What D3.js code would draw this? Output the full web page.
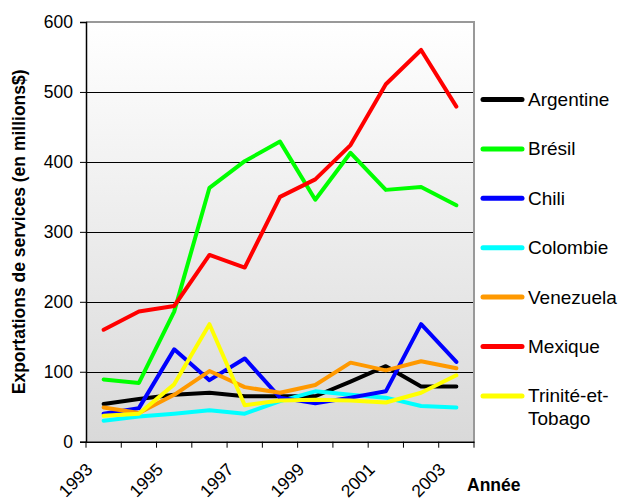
<!DOCTYPE html>
<html>
<head>
<meta charset="utf-8">
<script src="https://cdn.jsdelivr.net/npm/d3@7"></script>
<style>
  body { margin: 0; background: #fff; }
  text { font-family: "Liberation Sans", Arial, sans-serif; }
</style>
</head>
<body>
<div id="chart"></div>
<script>
// data
const years = ['1993', '1994', '1995', '1996', '1997', '1998', '1999', '2000', '2001', '2002', '2003'];
const yearLabels = ['1993', '1995', '1997', '1999', '2001', '2003'];
const yTicks = [0, 100, 200, 300, 400, 500, 600];

const argentine = [54, 61, 67, 70, 65, 65, 65, 86, 108, 79, 79];
const bresil = [89, 84, 186, 363, 401, 429, 346, 413, 360, 364, 338];
const chili = [40, 48, 132, 88, 119, 63, 55, 63, 72, 168, 114];
const colombie = [30, 36, 40, 45, 40, 58, 72, 67, 63, 51, 49];
const venezuela = [49, 41, 67, 101, 78, 70, 81, 113, 102, 115, 105];
const mexique = [160, 186, 194, 267, 249, 350, 375, 424, 511, 560, 479];
const trinite = [37, 40, 82, 168, 52, 59, 60, 59, 56, 70, 95];

const seriesNames = ['Argentine', 'Brésil', 'Chili', 'Colombie', 'Venezuela', 'Mexique', 'Trinité-et-Tobago'];
const seriesColors = ['#000000', '#00ff00', '#0000ff', '#00ffff', '#ff9900', '#ff0000', '#ffff00'];
const seriesValues = [argentine, bresil, chili, colombie, venezuela, mexique, trinite];

// drawing order: later ones on top
const drawOrder = [1, 5, 0, 3, 2, 4, 6];

const width = 619;
const height = 502;
const margin = {top: 22, right: 145, bottom: 60, left: 86};

const svg = d3.select('#chart')
    .append('svg')
    .attr('width', width)
    .attr('height', height);

const x = d3.scaleBand()
    .domain(years)
    .range([margin.left, width - margin.right]);

const y = d3.scaleLinear()
    .domain([0, 600])
    .range([height - margin.bottom - 0.3, margin.top]);

const defs = svg.append('defs');
const grad = defs.append('linearGradient')
    .attr('id', 'bg')
    .attr('x1', 0).attr('y1', 0)
    .attr('x2', 0).attr('y2', 1);
grad.append('stop').attr('offset', '0%').attr('stop-color', '#ffffff');
grad.append('stop').attr('offset', '100%').attr('stop-color', '#d9d9d9');

const plotW = width - margin.right - margin.left;
const plotH = y(0) - margin.top;

svg.append('rect')
    .attr('x', margin.left)
    .attr('y', margin.top)
    .attr('width', plotW)
    .attr('height', plotH)
    .attr('fill', 'url(#bg)');

// gridlines
svg.append('g')
    .selectAll('line')
    .data(yTicks.filter((d) => d > 0 && d < 600))
    .join('line')
    .attr('x1', margin.left)
    .attr('x2', width - margin.right)
    .attr('y1', (d) => Math.round(y(d)) + 0.5)
    .attr('y2', (d) => Math.round(y(d)) + 0.5)
    .attr('stroke', '#000')
    .attr('stroke-width', 1);

// top and right border
svg.append('path')
    .attr('d', `M${margin.left},${margin.top}H${width - margin.right}V${y(0)}`)
    .attr('fill', 'none')
    .attr('stroke', '#999')
    .attr('stroke-width', 2);

// y axis
const yAxis = d3.axisLeft(y)
    .tickValues(yTicks)
    .tickSize(6)
    .tickPadding(7);

const gy = svg.append('g')
    .attr('transform', `translate(${margin.left},0)`)
    .call(yAxis);
gy.select('.domain').attr('stroke', '#000').attr('stroke-width', 1.5);
gy.selectAll('.tick line').attr('stroke', '#000');
gy.selectAll('.tick text')
    .attr('font-size', 17.5)
    .attr('fill', '#000');

// x axis
const xAxis = d3.axisBottom(x)
    .tickValues([])
    .tickSizeOuter(0);

const gx = svg.append('g')
    .attr('transform', `translate(0,${y(0)})`)
    .call(xAxis);
gx.select('.domain').attr('stroke', '#000').attr('stroke-width', 1.5);

gx.append('g')
    .selectAll('line')
    .data(years.concat(['end']))
    .join('line')
    .attr('x1', (d) => d === 'end' ? x.range()[1] : x(d))
    .attr('x2', (d) => d === 'end' ? x.range()[1] : x(d))
    .attr('y1', 0)
    .attr('y2', 6)
    .attr('stroke', '#000');

gx.append('g')
    .selectAll('text')
    .data(yearLabels)
    .join('text')
    .attr('transform', (d) =>
      `translate(${x(d) + x.bandwidth() / 2 - 10},${29}) rotate(-45)`)
    .attr('text-anchor', 'end')
    .attr('font-size', 17.5)
    .attr('fill', '#000')
    .text((d) => d);

// lines
const line = d3.line()
    .x((d, i) => x(years[i]) + x.bandwidth() / 2)
    .y((d) => y(d));

svg.append('g')
    .selectAll('path')
    .data(drawOrder)
    .join('path')
    .attr('d', (k) => line(seriesValues[k]))
    .attr('fill', 'none')
    .attr('stroke', (k) => seriesColors[k])
    .attr('stroke-width', 4)
    .attr('stroke-linejoin', 'round')
    .attr('stroke-linecap', 'round');

// legend
const legend = svg.append('g');
const legY = (i) => 99.5 + i * 49.4;

legend.selectAll('line')
    .data(seriesNames)
    .join('line')
    .attr('x1', 483)
    .attr('x2', 522)
    .attr('y1', (d, i) => legY(i))
    .attr('y2', (d, i) => legY(i))
    .attr('stroke', (d, i) => seriesColors[i])
    .attr('stroke-width', 5)
    .attr('stroke-linecap', 'round');

const legText = legend.selectAll('text')
    .data(seriesNames)
    .join('text')
    .attr('x', 528)
    .attr('y', (d, i) => legY(i) + 6.5)
    .attr('font-size', 19)
    .attr('fill', '#000');

legText.each(function(d) {
  const t = d3.select(this);
  if (d === 'Trinité-et-Tobago') {
    t.append('tspan').attr('x', 528).text('Trinité-et-');
    t.append('tspan').attr('x', 528).attr('dy', 23).text('Tobago');
  } else {
    t.text(d);
  }
});

// axis titles
svg.append('text')
    .attr('transform', `translate(25,${(margin.top + y(0)) / 2}) rotate(-90)`)
    .attr('text-anchor', 'middle')
    .attr('font-size', 17.5)
    .attr('font-weight', 'bold')
    .attr('fill', '#000')
    .text('Exportations de services (en millions$)');

svg.append('text')
    .attr('x', 467)
    .attr('y', 491)
    .attr('font-size', 17.5)
    .attr('font-weight', 'bold')
    .attr('fill', '#000')
    .text('Année');
</script>
</body>
</html>
